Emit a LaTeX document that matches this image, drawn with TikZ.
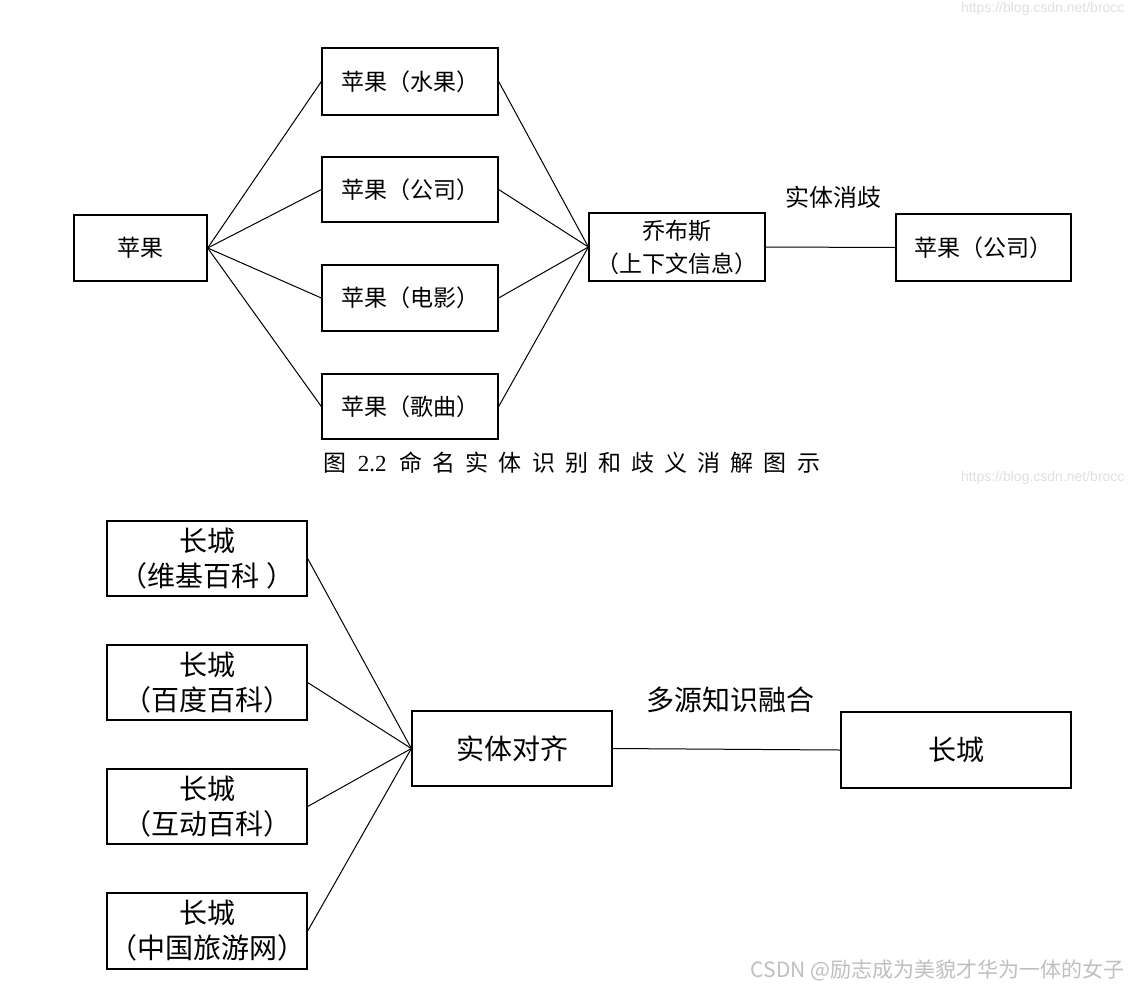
\documentclass[tikz,border=0pt]{standalone}
\usepackage{fontspec}
\setmainfont{Liberation Serif}
\newfontfamily\cjk{Noto Sans CJK SC}
\newfontfamily\capcjk[LetterSpace=44]{Noto Sans CJK SC}
\newfontfamily\wmfont{Liberation Sans}
\begin{document}
\begin{tikzpicture}[x=1pt,y=-1pt,
    box/.style={draw, line width=1.3pt, inner sep=0pt, align=center},
    small/.style={box, font=\cjk\fontsize{23}{33}\selectfont},
    large/.style={box, font=\cjk\fontsize{28}{35}\selectfont},
    tag/.style={font=\cjk\fontsize{24}{30}\selectfont},
    wm/.style={text=black!12, anchor=east}]
  \useasboundingbox[fill=white] (0,0) rectangle (1131,991);
  % entity disambiguation
  \draw
    (140.5,248) node[small, minimum width=133, minimum height=66] (apple){苹果}
    (410,81.5) node[small, minimum width=176, minimum height=67] (fruit){苹果（水果）}
    (410,189.5) node[small, minimum width=176, minimum height=65] (company){苹果（公司）}
    (410,298) node[small, minimum width=176, minimum height=66] (movie){苹果（电影）}
    (410,406.5) node[small, minimum width=176, minimum height=65] (song){苹果（歌曲）}
    (677,247) node[small, minimum width=176, minimum height=68] (jobs){乔布斯\\（上下文信息）}
    (983.5,247.5) node[small, minimum width=175, minimum height=67] (result){苹果（公司）};
  \node[tag] (disamb) at (833,197) {实体消歧};
  \begin{scope}[line width=1pt]
    \draw (apple.east) to (fruit.west);
    \draw (apple.east) to (company.west);
    \draw (apple.east) to (movie.west);
    \draw (apple.east) to (song.west);
    \draw (fruit.east) to (jobs.west);
    \draw (company.east) to (jobs.west);
    \draw (movie.east) to (jobs.west);
    \draw (song.east) to (jobs.west);
    \draw (jobs.east) to (result.west);
  \end{scope}
  \node (caption) at (572,463)
    {\fontsize{23}{26}\selectfont\capcjk 图\hspace{11pt}\rmfamily 2.2\hspace{13pt}\capcjk 命名实体识别和歧义消解图示};
  % knowledge fusion
  \draw
    (207,558.5) node[large, minimum width=200, minimum height=75] (wiki){长城\\（维基百科 ）}
    (207,682.5) node[large, minimum width=200, minimum height=75] (baidu){长城\\（百度百科）}
    (207,806.5) node[large, minimum width=200, minimum height=75] (hudong){长城\\（互动百科）}
    (207,931) node[large, minimum width=200, minimum height=76] (travel){长城\\（中国旅游网）}
    (512,748.5) node[large, minimum width=200, minimum height=75] (align){实体对齐}
    (956,750) node[large, minimum width=230, minimum height=76] (wall){长城};
  \node[tag, font=\cjk\fontsize{28}{30}\selectfont] (fusion) at (730,700) {多源知识融合};
  \begin{scope}[line width=1pt]
    \draw (wiki.east) to (align.west);
    \draw (baidu.east) to (align.west);
    \draw (hudong.east) to (align.west);
    \draw (travel.east) to (align.west);
    \draw (align.east) to (wall.west);
  \end{scope}
  % watermarks
  \node[wm, font=\wmfont\fontsize{14}{16}\selectfont] (wmtop) at (1128,9) {https://blog.csdn.net/brocc};
  \node[wm, font=\wmfont\fontsize{14}{16}\selectfont] (wmmid) at (1128,478) {https://blog.csdn.net/brocc};
  \node[wm, text=black!25, font=\cjk\fontsize{21}{24}\selectfont] (wmcsdn) at (1128,970) {CSDN @励志成为美貌才华为一体的女子};
\end{tikzpicture}
\end{document}
